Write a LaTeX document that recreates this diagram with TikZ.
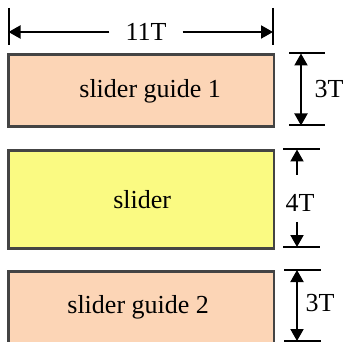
\documentclass[tikz,border=0pt]{standalone}
\usepackage{fontspec}
\setmainfont{Liberation Serif}
\usetikzlibrary{arrows.meta}

\definecolor{guidefill}{RGB}{252,213,182}
\definecolor{sliderfill}{RGB}{250,250,130}
\definecolor{edgegray}{RGB}{68,68,68}

\tikzset{
  part/.style={draw=edgegray, line width=2.8pt, minimum width=265.5pt, inner sep=0pt, anchor=north west},
  bigtext/.style={font=\fontsize{26}{30}\selectfont, inner sep=0pt},
  tickline/.style={line width=2pt},
  dimline/.style={line width=2pt, -{Triangle[length=12pt,width=13pt]}},
  dimboth/.style={line width=2pt, {Triangle[length=12pt,width=13pt]}-{Triangle[length=12pt,width=13pt]}}
}

\begin{document}
\begin{tikzpicture}[x=1pt, y=-1pt]
        \useasboundingbox (0,0) rectangle (343,342);
        \def \lx {7}
        \def \thin {72}
        \def \thick {97.5}

        % the three parts
        \node[part, fill=guidefill, minimum height=\thin pt] at (\lx,53.5) (guide1) {};
        \node[part, fill=sliderfill, minimum height=\thick pt] at (\lx,149.5) (slider) {};
        \node[part, fill=guidefill, minimum height=\thin pt] at (\lx,270) (guide2) {};
        \node[bigtext] at ([xshift=9pt]guide1.center) (guide1text) {slider guide 1};
        \node[bigtext] at ([xshift=1pt]slider.center) (slidertext) {slider};
        \node[bigtext] at ([xshift=-3pt]guide2.center) (guide2text) {slider guide 2};

        % width 11T
        \draw[tickline] (8.5,8) -- (8.5,45);
        \draw[tickline] (273,8) -- (273,45);
        \coordinate (wl) at (8.5,32);
        \coordinate (wr) at (273,32);
        \node[bigtext, inner xsep=16pt] at (146,32) (wlabel) {11T};
        \draw[dimline] (wlabel) -- (wl);
        \draw[dimline] (wlabel) -- (wr);

        % heights
        \foreach \ya/\xa/\xb in {53.5/289/325, 125.5/289/325, 149.5/283/320, 247/283/320, 270/284/321, 341/284/321}{
          \draw[tickline] (\xa,\ya) -- (\xb,\ya);
        }
        \coordinate (g1t) at (301,53.5);
        \coordinate (g1b) at (301,125.5);
        \draw[dimboth] (g1t) -- (g1b);
        \node[bigtext] at (329,89) (g1label) {3T};

        \coordinate (st) at (297,149.5);
        \coordinate (sb) at (297,247);
        \coordinate (stend) at (297,175);
        \coordinate (sbend) at (297,222);
        \draw[dimline] (stend) -- (st);
        \draw[dimline] (sbend) -- (sb);
        \node[bigtext] at (300,203) (slabel) {4T};

        \coordinate (g2t) at (297,270);
        \coordinate (g2b) at (297,341);
        \draw[dimboth] (g2t) -- (g2b);
        \node[bigtext] at (320,303) (g2label) {3T};
\end{tikzpicture}
\end{document}
